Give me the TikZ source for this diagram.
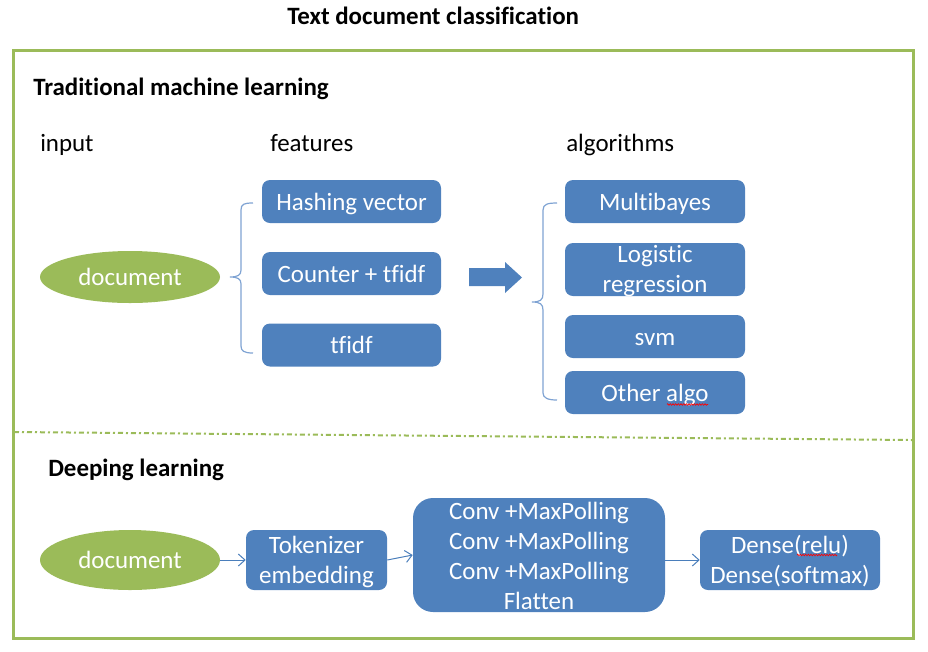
\documentclass[tikz,border=0pt]{standalone}
\usepackage{fontspec}
\setmainfont{Carlito}[Ligatures=CommonOff]
\usetikzlibrary{arrows.meta,shapes.geometric,decorations.pathmorphing}
\definecolor{bx}{HTML}{4F81BD}
\definecolor{gr}{HTML}{9BBB59}
\definecolor{ln}{HTML}{4A7EBB}
\definecolor{br}{HTML}{7FA3D3}
% text whose last baseline is lowered by #1 below the node centre, with no height
\newcommand\mytxt[2]{\raisebox{#1}[0pt][0pt]{\vbox{\halign{\hfil##\hfil\cr #2\cr}}}}
\begin{document}
\begin{tikzpicture}[x=0.75pt,y=-0.75pt,
  txt/.style={font=\fontsize{18.7}{22.5}\selectfont, inner sep=0pt, anchor=base west},
  head/.style={font=\fontsize{18.7}{22.5}\selectfont\bfseries, inner sep=0pt, anchor=base west},
  box/.style={fill=bx, draw=none, rounded corners=6pt, text=white,
    font=\fontsize{18.7}{22.5}\selectfont, inner sep=0pt},
  doc/.style={ellipse, fill=gr, draw=none, text=white, inner sep=0pt,
    font=\fontsize{18.7}{22.5}\selectfont},
  thin/.style={draw=ln, line width=0.75pt, -{Straight Barb[length=5pt,width=9pt]}},
  brace/.style={draw=br, line width=0.9pt},
  squig/.style={draw=red, line width=0.5pt, decorate,
    decoration={zigzag, amplitude=0.6pt, segment length=2pt}}]
\useasboundingbox (0,0) rectangle (928,651);

% frame
\node[head] (title) at (287,24) {Text document classification};
\draw[gr, line width=2.25pt] (13,50) rectangle (913,638);
\coordinate (dl) at (14,432);
\coordinate (dr) at (912,440);
\draw[gr, line width=1.5pt, dash pattern=on 3.75pt off 2.25pt on 1.5pt off 2.25pt] (dl) -- (dr);

% traditional
\node[head] (trad) at (33,95) {Traditional machine learning};
\node[txt] (inp) at (40,151) {input};
\node[txt] (feat) at (270,151) {features};
\node[txt] (alg) at (566,151) {algorithms};

\node[doc, minimum width=135pt, minimum height=39pt] (d1) at (130,277) {\mytxt{-6.4pt}{document}};

\node[box, minimum width=134.25pt, minimum height=32.25pt] (hv) at (351.5,201.5) {\mytxt{-6.6pt}{Hashing vector}};
\node[box, minimum width=134.25pt, minimum height=32.25pt] (ct) at (351.5,273.5) {\mytxt{-6.6pt}{Counter + tfidf}};
\node[box, minimum width=134.25pt, minimum height=32.25pt] (tf) at (351.5,345) {\mytxt{-6.6pt}{tfidf}};

\draw[brace] (253,203) .. controls (244,203) and (241,204) .. (241,210) -- (241,270)
  .. controls (241,275) and (238,277) .. (230,277)
  .. controls (238,277) and (241,279) .. (241,284) -- (241,346)
  .. controls (241,351) and (244,353) .. (253,353);

\node[inner sep=0pt, minimum size=0pt] (arr) at (495,277.5) {};
\fill[bx] (469,268) -- (505,268) -- (505,262) -- (522,277.5) -- (505,293) -- (505,286) -- (469,286) -- cycle;

\draw[brace] (557,203) .. controls (548,203) and (543,204) .. (543,210) -- (543,294)
  .. controls (543,300) and (540,302) .. (532,302)
  .. controls (540,302) and (543,304) .. (543,310) -- (543,393)
  .. controls (543,398) and (548,400) .. (557,400);

\node[box, minimum width=135pt, minimum height=32.25pt] (mb) at (655,201.5) {\mytxt{-6.6pt}{Multibayes}};
\node[box, minimum width=135pt, minimum height=39.75pt] (lr) at (655,269.5) {\mytxt{-17.6pt}{Logistic\cr regression}};
\node[box, minimum width=135pt, minimum height=32.25pt] (svm) at (655,336.5) {\mytxt{-6.6pt}{svm}};
\node[box, minimum width=135pt, minimum height=32.25pt] (oa) at (655,392.5) {\mytxt{-6.6pt}{Other algo}};
\coordinate (s1a) at (667,404.5);
\coordinate (s1b) at (708,404.5);
\draw[squig] (s1a) -- (s1b);

% deep learning
\node[head] (deep) at (48,476) {Deeping learning};
\node[doc, minimum width=135pt, minimum height=45pt] (d2) at (130,560) {\mytxt{-6.4pt}{document}};
\node[box, minimum width=105.75pt, minimum height=45pt] (tok) at (316.5,560) {\mytxt{-17.6pt}{Tokenizer\cr embedding}};
\node[box, rounded corners=15pt, minimum width=189pt, minimum height=85.5pt] (big) at (539,555)
  {\mytxt{-40.8pt}{Conv +MaxPolling\cr Conv +MaxPolling\cr Conv +MaxPolling\cr Flatten}};
\node[box, minimum width=135pt, minimum height=45pt] (dense) at (790,560) {\mytxt{-17.6pt}{Dense(relu)\cr Dense(softmax)}};
\coordinate (s2a) at (797,555);
\coordinate (s2b) at (837,555);
\draw[squig] (s2a) -- (s2b);

\draw[thin] (d2) -- (tok);
\draw[thin] (tok.east) -- (big.west);
\draw[thin] (big.east |- dense.west) -- (dense.west);
\end{tikzpicture}
\end{document}
